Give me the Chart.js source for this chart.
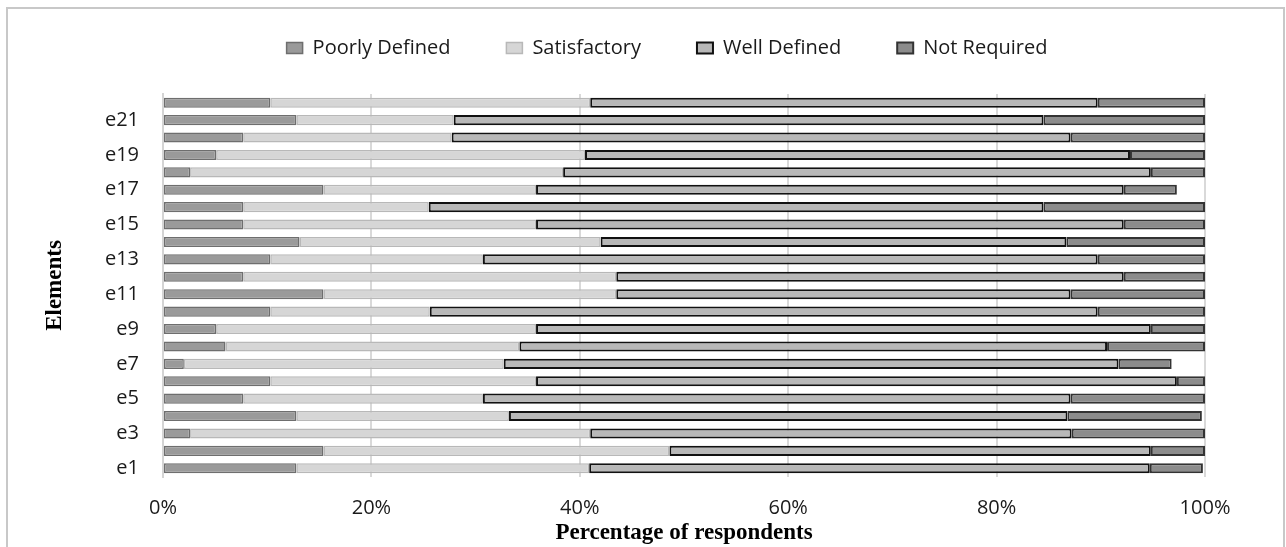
<!DOCTYPE html>
<html>
<head>
<meta charset="utf-8">
<script src="https://cdn.jsdelivr.net/npm/chart.js@4.4.1/dist/chart.umd.min.js"></script>
<style>
  html, body { margin: 0; padding: 0; background: #fff; }
  #wrap { width: 1286px; height: 547px; position: relative; }
</style>
</head>
<body>
<div id="wrap"><canvas id="chart"></canvas></div>
<script>
// elements, bottom (e1) to top (e22)
const elements = ['e1','e2','e3','e4','e5','e6','e7','e8','e9','e10','e11','e12','e13','e14','e15','e16','e17','e18','e19','e20','e21','e22'];

// percentage of respondents per answer
const poorlyDefined = [12.8, 15.4, 2.6, 12.8, 7.7, 10.3, 2.0, 6.0, 5.1, 10.3, 15.4, 7.7, 10.3, 13.1, 7.7, 7.7, 15.4, 2.6, 5.1, 7.7, 12.8, 10.3];
const satisfactory  = [28.1, 33.2, 38.4, 20.4, 23.0, 25.5, 30.7, 28.2, 30.7, 15.3, 28.1, 35.8, 20.4, 28.9, 28.1, 17.8, 20.4, 35.8, 35.4, 20.0, 15.1, 30.7];
const wellDefined   = [53.8, 46.2, 46.2, 53.6, 56.4, 61.5, 59.0, 56.4, 59.0, 64.1, 43.6, 48.7, 59.0, 44.7, 56.4, 59.0, 56.4, 56.4, 52.3, 59.4, 56.6, 48.7];
const notRequired   = [5.1, 5.2, 12.8, 12.9, 12.9, 2.7, 5.1, 9.4, 5.2, 10.3, 12.9, 7.8, 10.3, 13.3, 7.8, 15.5, 5.1, 5.2, 7.2, 12.9, 15.5, 10.3];

const xTicks = [0, 20, 40, 60, 80, 100];

// grey frame round the whole chart, and nudge the legend a bit left
const framePlugin = {
  id: 'frame',
  afterLayout(chart) {
    chart.legend.left -= 17;
    chart.legend.right -= 17;
  },
  beforeDraw(chart) {
    const ctx = chart.ctx;
    ctx.save();
    ctx.fillStyle = '#fff';
    ctx.fillRect(0, 0, chart.width, chart.height);
    ctx.strokeStyle = '#c8c8c8';
    ctx.lineWidth = 2;
    ctx.strokeRect(7, 8, 1277, 600);
    ctx.restore();
  }
};

const bar = (label, data, bg, border, bw) => ({
  label, data,
  backgroundColor: bg,
  borderColor: border,
  borderWidth: bw,
  borderSkipped: false,
  barPercentage: 0.58,
  categoryPercentage: 1
});

new Chart(document.getElementById('chart'), {
  type: 'bar',
  data: {
    labels: elements,
    datasets: [
      bar('Poorly Defined', poorlyDefined, '#9a9a9a', '#6e6e6e', 1.5),
      bar('Satisfactory', satisfactory, '#d6d6d6', '#b8b8b8', 1.5),
      bar('Well Defined', wellDefined, '#b8b8b8', '#111111', 2),
      bar('Not Required', notRequired, '#8c8c8c', '#333333', 2)
    ]
  },
  options: {
    indexAxis: 'y',
    responsive: true,
    maintainAspectRatio: false,
    animation: false,
    layout: { padding: { top: 22, right: 81, bottom: 0, left: 0 } },
    plugins: {
      tooltip: { enabled: false },
      legend: {
        position: 'top',
        fullSize: false,
        labels: {
          boxWidth: 16,
          boxHeight: 11,
          padding: 16,
          color: '#1a1a1a',
          font: { family: '"Open Sans"', size: 20 },
          generateLabels(chart) {
            const items = Chart.defaults.plugins.legend.labels.generateLabels(chart);
            items.forEach((it, i) => { if (i < items.length - 1) it.text += '\u2003\u2003'; });
            return items;
          }
        }
      }
    },
    scales: {
      x: {
        stacked: true,
        min: 0,
        max: 100,
        afterBuildTicks(s) { s.ticks = xTicks.map(v => ({ value: v })); },
        ticks: {
          callback: v => v + '%',
          color: '#1a1a1a',
          padding: 19,
          font: { family: '"Open Sans"', size: 20 }
        },
        grid: { color: '#d9d9d9', lineWidth: 2, drawTicks: false },
        border: { display: false },
        title: {
          display: true,
          text: 'Percentage of respondents',
          color: '#000',
          font: { family: '"Liberation Serif"', size: 23, weight: 'bold' },
          padding: { top: 0, bottom: 0 }
        },
        afterFit(s) { s.height = 70; }
      },
      topGap: {
        position: 'top',
        display: true,
        grid: { display: false },
        border: { display: false },
        ticks: { display: false },
        afterFit(s) { s.height = 26; }
      },
      y: {
        stacked: true,
        reverse: true,
        grid: { display: false, drawTicks: false },
        border: { display: true, color: '#d4d4d4', width: 2 },
        ticks: {
          autoSkip: false,
          padding: 24,
          color: '#1a1a1a',
          font: { family: '"Open Sans"', size: 20 },
          callback: (v, i) => (i % 2 === 0 ? elements[i] : '')
        },
        title: {
          display: true,
          text: 'Elements',
          color: '#000',
          font: { family: '"Liberation Serif"', size: 23, weight: 'bold' },
          padding: { top: 41, bottom: 0 }
        },
        afterFit(s) { s.width = 163; }
      }
    }
  },
  plugins: [framePlugin]
});
</script>
</body>
</html>
